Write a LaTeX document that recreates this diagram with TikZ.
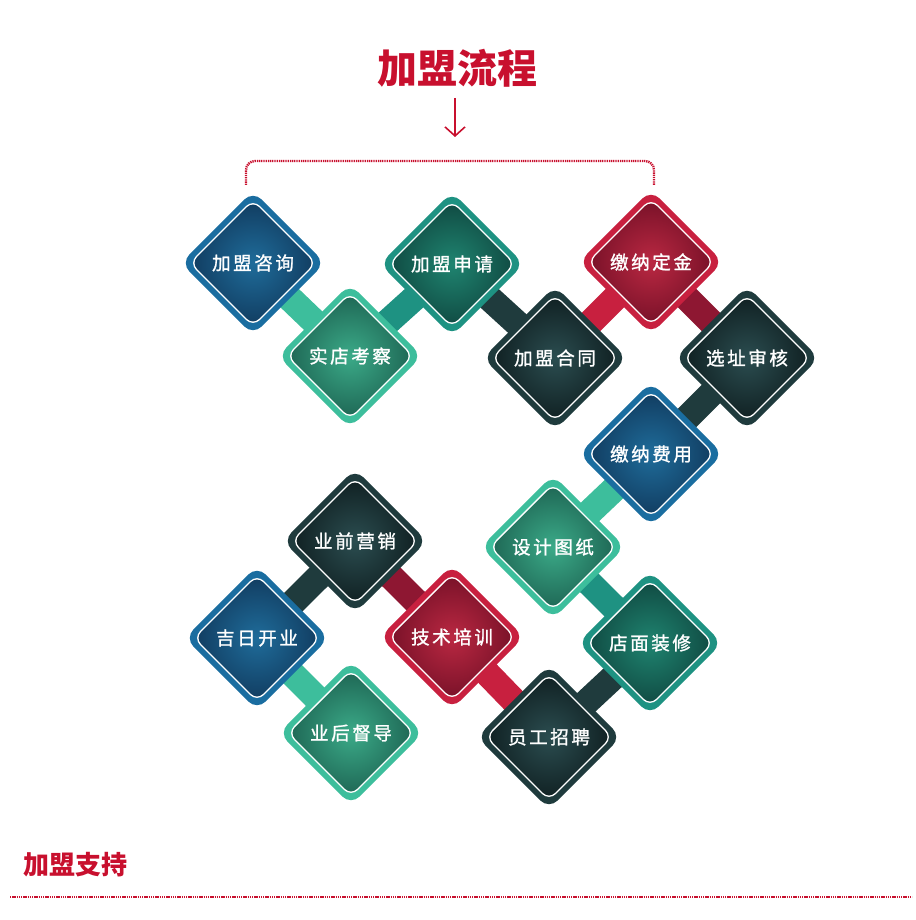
\documentclass[tikz,border=0pt]{standalone}
\usepackage{fontspec}
\newfontfamily\cjk[LetterSpace=14,FakeBold=1.3]{Noto Sans CJK SC}
\newfontfamily\cjkt{Noto Sans CJK SC}
\usetikzlibrary{arrows.meta}
\pgfdeclarelayer{bg}\pgfsetlayers{bg,main}
\definecolor{bluB}{HTML}{1A6DA0}\definecolor{bluO}{HTML}{113C60}\definecolor{bluI}{HTML}{1F6C9A}
\definecolor{ltB}{HTML}{3DBE9C}\definecolor{ltO}{HTML}{1E6654}\definecolor{ltI}{HTML}{3BAA88}
\definecolor{tlB}{HTML}{1E9282}\definecolor{tlO}{HTML}{104A42}\definecolor{tlI}{HTML}{1F8470}
\definecolor{dkB}{HTML}{1F3B3D}\definecolor{dkO}{HTML}{102022}\definecolor{dkI}{HTML}{2B4D50}
\definecolor{rdB}{HTML}{C8203F}\definecolor{rdO}{HTML}{781128}\definecolor{rdI}{HTML}{BA2842}
\definecolor{rdD}{HTML}{8E1732}
\definecolor{ttl}{HTML}{C8102E}
\tikzset{
  lbl/.style={text=white, font=\cjk\fontsize{18.5}{18.5}\selectfont, inner sep=0pt},
  bar/.style={line width=26pt, draw=#1},
  dotline/.style={draw=ttl, line width=2.4pt, dash pattern=on 1.3pt off 0.9pt},
}
\newcommand\dmd[4]{%
  \begin{scope}[shift={(#2)},rotate=45]
    \fill[#3B, rounded corners=12pt] (-51,-51) rectangle (51,51);
    \shadedraw[draw=white, line width=1.3pt, inner color=#3I, outer color=#3O, rounded corners=9pt] (-44.5,-44.5) rectangle (44.5,44.5);
  \end{scope}
  \node[lbl] (#1) at (#2) {#4};
}
\begin{document}
\begin{tikzpicture}[x=1pt,y=-1pt]
\useasboundingbox (0,0) rectangle (915,920);
% title
\node[text=ttl, font=\cjkt\bfseries\fontsize{40}{40}\selectfont, inner sep=0pt] (title) at (457,68) {加盟流程};
\coordinate (arrS) at (455,98);
\coordinate (arrE) at (455,137);
\draw[ttl, line width=1.6pt, -{Straight Barb[length=9pt,width=20pt,line width=1.6pt]}] (arrS) -- (arrE);
\coordinate (brL) at (246,185);
\coordinate (brR) at (654,185);
\draw[dotline, rounded corners=9pt] (brL) -- (246,161) -- (654,161) -- (brR);
% diamonds
\dmd{n1}{253,263}{blu}{加盟咨询}
\dmd{n2}{350,356}{lt}{实店考察}
\dmd{n3}{452,264}{tl}{加盟申请}
\dmd{n4}{555,358}{dk}{加盟合同}
\dmd{n5}{651,262}{rd}{缴纳定金}
\dmd{n6}{747,358}{dk}{选址审核}
\dmd{n7}{651,454}{blu}{缴纳费用}
\dmd{n8}{553,547}{lt}{设计图纸}
\dmd{n9}{650,643}{tl}{店面装修}
\dmd{n10}{549,737}{dk}{员工招聘}
\dmd{n11}{452,637}{rd}{技术培训}
\dmd{n12}{355,541}{dk}{业前营销}
\dmd{n13}{257,638}{blu}{吉日开业}
\dmd{n14}{351,733}{lt}{业后督导}
\begin{pgfonlayer}{bg}
\draw[bar=ltB] (n1.center) -- (n2.center);
\draw[bar=tlB] (n2.center) -- (n3.center);
\draw[bar=dkB] (n3.center) -- (n4.center);
\draw[bar=rdB] (n4.center) -- (n5.center);
\draw[bar=rdD] (n5.center) -- (n6.center);
\draw[bar=dkB] (n6.center) -- (n7.center);
\draw[bar=ltB] (n7.center) -- (n8.center);
\draw[bar=tlB] (n8.center) -- (n9.center);
\draw[bar=dkB] (n9.center) -- (n10.center);
\draw[bar=rdB] (n10.center) -- (n11.center);
\draw[bar=rdD] (n11.center) -- (n12.center);
\draw[bar=dkB] (n12.center) -- (n13.center);
\draw[bar=ltB] (n13.center) -- (n14.center);
\end{pgfonlayer}
% bottom
\node[text=ttl, font=\cjkt\bfseries\fontsize{26}{26}\selectfont, inner sep=0pt] (support) at (75.5,865) {加盟支持};
\coordinate (dL) at (10,897);
\coordinate (dR) at (912,897);
\draw[dotline] (dL) -- (dR);
\end{tikzpicture}
\end{document}
